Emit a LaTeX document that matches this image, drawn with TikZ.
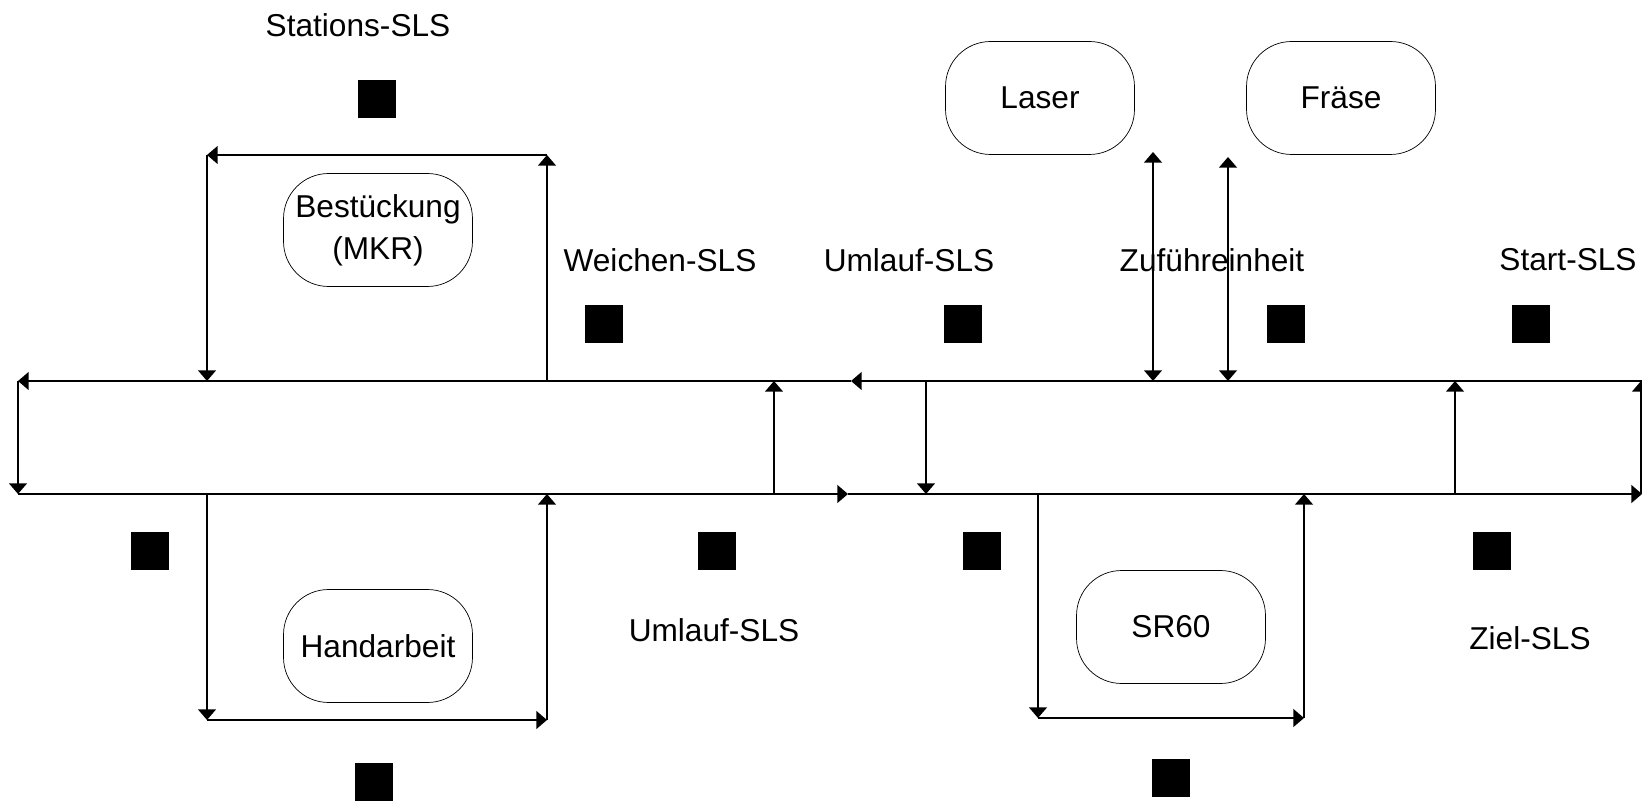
\documentclass[tikz,border=0pt]{standalone}
\usepackage{fontspec}
\setmainfont{Liberation Sans}
\usetikzlibrary{arrows.meta}
\begin{document}
\begin{tikzpicture}[x=0.02cm, y=-0.02cm,
        every node/.style={font=\fontsize{18}{24}\selectfont},
        station/.style={draw, rounded corners=0.9cm, thin, align=center,
          minimum width=3.78cm, minimum height=2.26cm},
        sls/.style={fill=black, inner sep=0pt, minimum size=0.75cm},
        band/.style={line width=1.1pt, -{Triangle[width=10pt,length=6pt]}},
        twoway/.style={line width=1.1pt, {Triangle[width=10pt,length=6pt]}-{Triangle[width=10pt,length=6pt]}}]

      \useasboundingbox (0,0) rectangle (1642,803);

      % Stations
      \node[station] (best) at (378,230) {Bestückung\\(MKR)};
      \node[station] (hand) at (378,646) {Handarbeit};
      \node[station] (laser) at (1040,98) {Laser};
      \node[station] (fraese) at (1341,98) {Fräse};
      \node[station] (sr) at (1171,627) {SR60};

      % Sensors
      \node[sls] (s1) at (377,99) {};
      \node[sls] (s2) at (604,324) {};
      \node[sls] (s3) at (963,324) {};
      \node[sls] (s4) at (1286,324) {};
      \node[sls] (s5) at (1531,324) {};
      \node[sls] (s6) at (150,551) {};
      \node[sls] (s7) at (717,551) {};
      \node[sls] (s8) at (982,551) {};
      \node[sls] (s9) at (1492,551) {};
      \node[sls] (s10) at (374,782) {};
      \node[sls] (s11) at (1171,778) {};

      % Labels
      \node (l1) at (358,25) {Stations-SLS};
      \node (l2) at (660,260) {Weichen-SLS};
      \node (l3) at (909,260) {Umlauf-SLS};
      \node (l4) at (1212,260) {Zuführeinheit};
      \node (l5) at (1568,260) {Start-SLS};
      \node (l6) at (714,630) {Umlauf-SLS};
      \node (l7) at (1530,638) {Ziel-SLS};

      % Main belt corners
      \coordinate (tl) at (18,381);
      \coordinate (bl) at (18,494);
      \coordinate (tm) at (851,381);
      \coordinate (bm) at (848,494);
      \coordinate (tr) at (1642,381);
      \coordinate (br) at (1642,494);
      \coordinate (rt) at (1641,381);
      \coordinate (rb) at (1641,494);

      % Cross links
      \coordinate (c1t) at (774,381);
      \coordinate (c1b) at (774,494);
      \coordinate (c2t) at (926,381);
      \coordinate (c2b) at (926,494);
      \coordinate (c3t) at (1455,381);
      \coordinate (c3b) at (1455,494);

      % Upper branch
      \coordinate (u1) at (207,381);
      \coordinate (u2) at (207,155);
      \coordinate (u3) at (547,155);
      \coordinate (u4) at (547,381);

      % Lower branches
      \coordinate (d1) at (207,494);
      \coordinate (d2) at (207,720);
      \coordinate (d3) at (547,720);
      \coordinate (d4) at (547,494);
      \coordinate (e1) at (1038,494);
      \coordinate (e2) at (1038,718);
      \coordinate (e3) at (1304,718);
      \coordinate (e4) at (1304,494);

      % Feeder
      \coordinate (f1t) at (1153,152);
      \coordinate (f1b) at (1153,381);
      \coordinate (f2t) at (1228,157);
      \coordinate (f2b) at (1228,381);

      % Belts
      \draw[band] (tm) -- (tl);
      \draw[band] (tl) -- (bl);
      \draw[band] (bl) -- (bm);
      \draw[band] (tr) -- (tm);
      \draw[band] (bm) -- (br);
      \draw[band] (rb) -- (rt);
      \draw[band] (c1b) -- (c1t);
      \draw[band] (c2t) -- (c2b);
      \draw[band] (c3b) -- (c3t);

      % Branches
      \draw[band] (u4) -- (u3);
      \draw[band] (u3) -- (u2);
      \draw[band] (u2) -- (u1);
      \draw[band] (d1) -- (d2);
      \draw[band] (d2) -- (d3);
      \draw[band] (d3) -- (d4);
      \draw[band] (e1) -- (e2);
      \draw[band] (e2) -- (e3);
      \draw[band] (e3) -- (e4);
      \draw[twoway] (f1t) -- (f1b);
      \draw[twoway] (f2t) -- (f2b);
    \end{tikzpicture}
\end{document}
